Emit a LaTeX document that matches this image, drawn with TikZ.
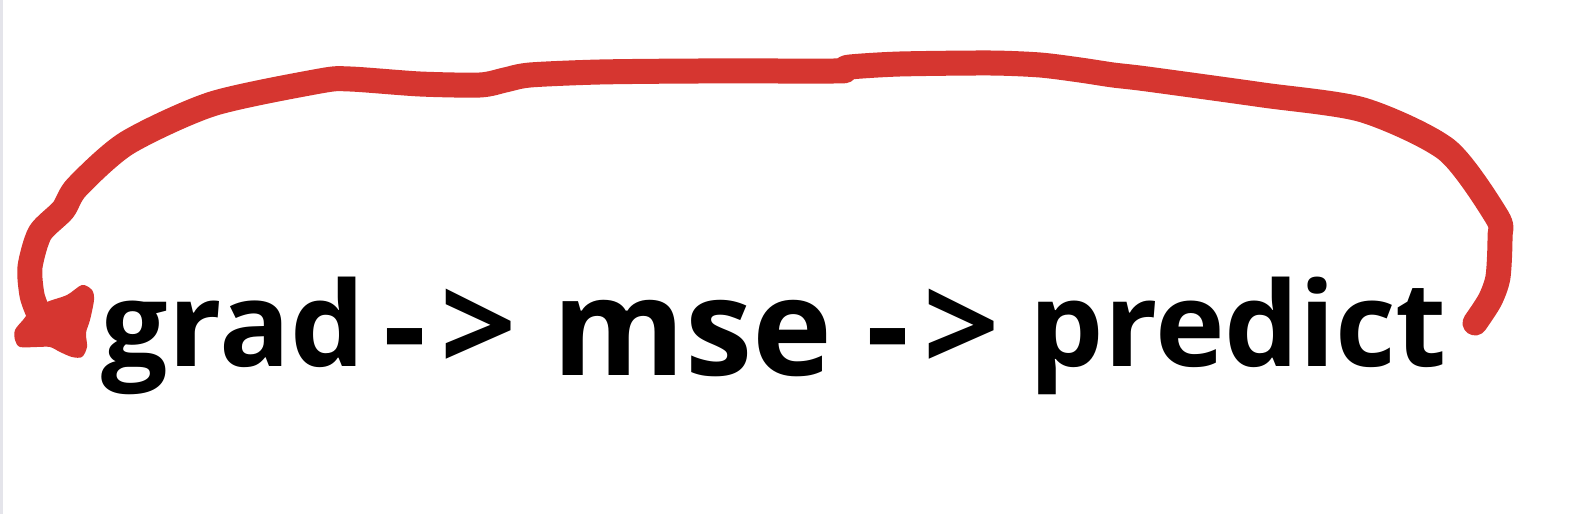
\documentclass[tikz,border=0pt]{standalone}
\usepackage{fontspec}
\setmainfont{Open Sans}
\usepackage{tikz}
\usetikzlibrary{
    positioning,                      % right=of, below=of, etc.
    calc                              % aritmetica de coordenadas
}
\definecolor{loopred}{RGB}{214,54,48}
\definecolor{edgegray}{RGB}{228,228,234}
\tikzset{
    word/.style={
        inner sep=0pt, anchor=base west,
        font=\bfseries\fontsize{33.5}{40}\selectfont
    },
    bigword/.style={
        word, font=\bfseries\fontsize{38.5}{46}\selectfont
    },
    arrowword/.style={
        word, font=\bfseries\fontsize{38}{46}\selectfont
    },
    loopline/.style={
        draw=loopred, line width=2.5mm,
        line cap=round, line join=round
    },
    loophead/.style={
        fill=loopred
    }
}
\begin{document}
\begin{tikzpicture}[x=0.1mm, y=-0.1mm]
    \useasboundingbox (0,0) rectangle (1582,514);
    \fill[edgegray] (0,0) rectangle (3,514);

    % --- Cadena de texto ---
    \node[word] (grad) at (101,367) {grad};
    \node[arrowword] (arrowA) at (383,373) {-\kern0.1em>};
    \node[bigword] (mse) at (552,376) {mse};
    \node[arrowword] (arrowB) at (866,373) {-\kern0.1em>};
    \node[word] (predict) at (1029,367) {predict};

    % --- Lazo a mano alzada de predict a grad ---
    \coordinate (tail) at (1475,323);
    \coordinate (head) at (38,312);
    \draw[loopline] plot[smooth, tension=0.45] coordinates {
        (tail) (1490,300) (1498,277) (1500,237) (1497,217) (1447,150)
        (1363,110) (1263,95) (1147,79) (1113,75) (1080,70) (1040,65)
        (990,63) (900,64) (850,67) (843,70) (835,71) (700,71) (600,72)
        (530,75) (505,80) (480,85) (420,84) (350,79) (320,81) (212,104)
        (127,143) (77,187) (63,210) (40,233) (30,267) (32,295) (head)
    };
    % punta de flecha (mancha rellena)
    \fill[loophead] plot[smooth cycle, tension=0.5] coordinates {
        (82,285) (92,290) (94,300) (90,320) (86,333) (87,347) (82,357)
        (72,357) (60,352) (50,347) (37,347) (20,347) (15,340) (15,330)
        (23,320) (30,312) (47,302) (67,295)
    };
\end{tikzpicture}
\end{document}
